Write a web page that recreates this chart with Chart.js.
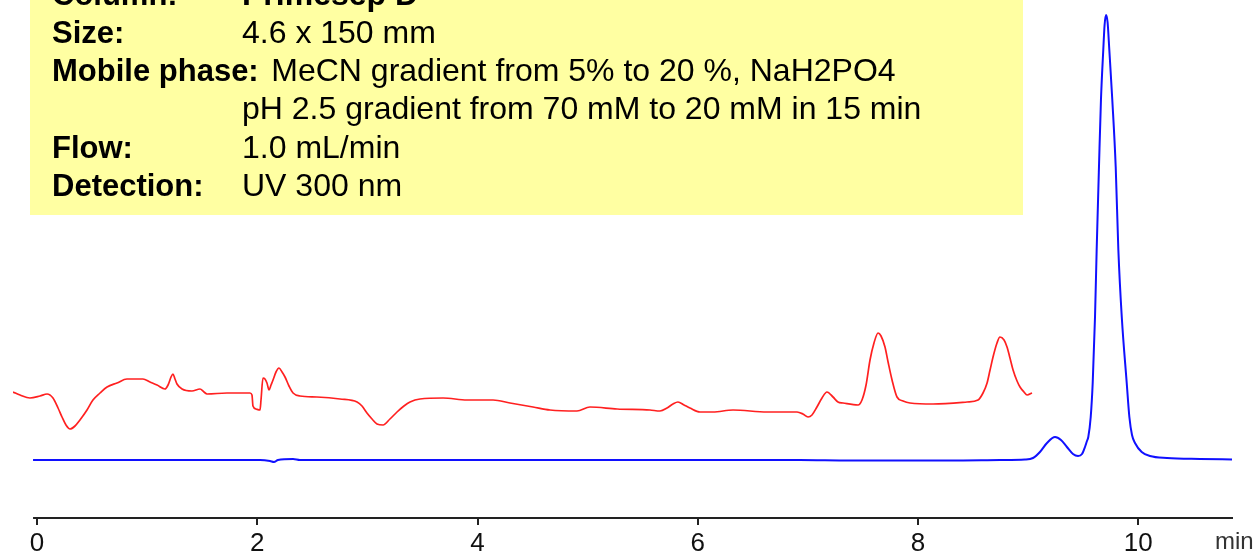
<!DOCTYPE html>
<html>
<head>
<meta charset="utf-8">
<script src="https://cdn.jsdelivr.net/npm/chart.js@4.4.1/dist/chart.umd.min.js"></script>
<style>
  html, body { margin: 0; padding: 0; background: #ffffff; }
  #wrap { width: 1255px; height: 554px; }
</style>
</head>
<body>
<div id="wrap"><canvas id="c" width="1255" height="554"></canvas></div>
<script>
// ---- data (time in min, detector signal in arbitrary units) ----
const xTickLabels = ["0", "2", "4", "6", "8", "10"];
const xUnitLabel = "min";
const axisStart = -0.036;   // where the drawn time axis begins

const redTime = [-0.218,-0.154,-0.064,0.027,0.091,0.145,0.191,0.227,0.263,0.300,0.345,0.390,0.454,0.508,0.572,0.636,0.726,0.817,0.962,1.026,1.090,1.162,1.190,1.217,1.235,1.253,1.271,1.317,1.407,1.480,1.516,1.544,1.725,1.934,1.952,1.961,1.989,2.025,2.034,2.052,2.070,2.088,2.107,2.125,2.143,2.170,2.197,2.225,2.252,2.288,2.325,2.388,2.542,2.751,2.906,2.951,2.996,3.042,3.087,3.142,3.205,3.269,3.332,3.387,3.478,3.687,3.905,4.141,4.295,4.504,4.658,4.903,5.021,5.267,5.566,5.657,5.721,5.775,5.820,5.875,5.929,6.020,6.138,6.320,6.629,6.901,6.955,7.001,7.037,7.082,7.128,7.173,7.228,7.273,7.319,7.455,7.491,7.528,7.564,7.600,7.637,7.664,7.700,7.728,7.764,7.809,7.864,7.927,8.136,8.445,8.545,8.590,8.627,8.654,8.681,8.717,8.744,8.781,8.808,8.835,8.863,8.899,8.926,8.962,8.990,9.035];
const redSignal = [126,123,120,122,124,120,110,101,93,89,92,98,108,118,125,131,135,139,139,136,133,129,133,141,144,139,134,129,127,129,126,124,125,125,123,112,109,108,118,140,139,135,128,133,138,146,150,146,141,132,125,122,121,119,116,112,105,99,94,93,99,106,112,116,119,120,118,118,115,111,108,107,111,109,108,107,110,114,116,113,110,106,106,108,106,106,104,101,103,111,120,126,121,116,115,113,118,133,158,175,185,182,171,156,138,121,117,115,114,116,118,125,135,148,161,175,181,178,171,160,148,137,131,126,123,125];

const blueTime = [-0.036,0.572,1.480,2.025,2.116,2.152,2.188,2.325,2.388,3.296,4.204,6.020,6.928,7.380,8.290,8.744,8.971,9.044,9.107,9.171,9.244,9.298,9.352,9.407,9.453,9.489,9.516,9.534,9.546,9.568,9.586,9.607,9.622,9.643,9.661,9.682,9.694,9.707,9.721,9.737,9.764,9.795,9.819,9.850,9.895,9.919,9.943,9.970,10.031,10.106,10.261,10.561,10.851];
const blueSignal = [58,58,58,58,57,56,58,59,58,58,58,58,58,57.5,57.5,58,58.5,60,66,75,81,78,71,64,62,64,71,77,81,101,135,201,268,351,418,468,493,503,496,468,418,351,268,201,135,101,83,75,66,62,60,59,58.5];

const infoLabels = ["Column:", "Size:", "Mobile phase:", "", "Flow:", "Detection:"];
const infoValues = ["Primesep D", "4.6 x 150 mm", "MeCN gradient from 5% to 20 %, NaH2PO4", "pH 2.5 gradient from 70 mM to 20 mM in 15 min", "1.0 mL/min", "UV 300 nm"];

// ---- build datasets ----
const toPts = (xs, ys) => xs.map((x, i) => ({ x: x, y: ys[i] }));

const decor = {
  id: 'decor',
  beforeDatasetsDraw(chart) {
    const ctx = chart.ctx;
    const xs = chart.scales.x;
    const y = chart.chartArea.bottom;
    ctx.save();
    ctx.strokeStyle = '#222';
    ctx.lineWidth = 2;
    ctx.beginPath();
    ctx.moveTo(xs.getPixelForValue(axisStart), y);
    ctx.lineTo(chart.chartArea.right, y);
    ctx.stroke();
    ctx.restore();
  },
  afterDraw(chart) {
    const ctx = chart.ctx;
    ctx.save();
    ctx.fillStyle = '#FFFFA2';
    ctx.fillRect(30, 0, 993, 215);
    ctx.fillStyle = '#000';
    ctx.textBaseline = 'alphabetic';
    const baselines = [5, 43, 81, 119, 158, 196];
    for (let i = 0; i < infoLabels.length; i++) {
      ctx.font = 'bold 31px "Liberation Sans", Arial, sans-serif';
      let vx = 242;
      if (infoLabels[i]) {
        ctx.fillText(infoLabels[i], 52, baselines[i]);
        const w = ctx.measureText(infoLabels[i] + ' ').width;
        vx = Math.max(242, 52 + w + 4);
      }
      ctx.font = (i === 0 ? 'bold ' : '') + '32px "Liberation Sans", Arial, sans-serif';
      ctx.fillText(infoValues[i], vx, baselines[i]);
    }
    // axis unit label
    ctx.font = '24px "Liberation Sans", Arial, sans-serif';
    ctx.fillStyle = '#333';
    ctx.fillText(xUnitLabel, 1215, 549);
    ctx.restore();
  }
};

new Chart(document.getElementById('c'), {
  type: 'line',
  data: {
    datasets: [
      {
        data: toPts(redTime, redSignal),
        borderColor: '#FF2020',
        borderWidth: 1.7,
        pointRadius: 0,
        cubicInterpolationMode: 'monotone',
        fill: false
      },
      {
        data: toPts(blueTime, blueSignal),
        borderColor: '#1010FF',
        borderWidth: 2,
        pointRadius: 0,
        cubicInterpolationMode: 'monotone',
        fill: false
      }
    ]
  },
  options: {
    responsive: false,
    animation: false,
    devicePixelRatio: 1,
    layout: { padding: { left: 13, right: 22, top: 0, bottom: 0 } },
    plugins: { legend: { display: false }, tooltip: { enabled: false }, title: { display: false } },
    scales: {
      x: {
        type: 'linear',
        min: -0.218,
        max: 10.86,
        afterFit(scale) { scale.height = 36; },
        border: { display: false },
        grid: { display: true, drawOnChartArea: false, drawTicks: true, tickLength: 7, color: '#222', lineWidth: 2 },
        ticks: {
          stepSize: 2,
          includeBounds: false,
          autoSkip: false,
          maxRotation: 0,
          padding: 6,
          color: '#111',
          font: { family: '"Liberation Sans", Arial, sans-serif', size: 26, lineHeight: 1 },
          callback: (v) => {
            const idx = Math.round(v / 2);
            return (Math.abs(v - idx * 2) < 1e-6 && xTickLabels[idx] !== undefined) ? xTickLabels[idx] : '';
          }
        }
      },
      y: {
        type: 'linear',
        display: false,
        min: 0,
        max: 518
      }
    }
  },
  plugins: [decor]
});
</script>
</body>
</html>
